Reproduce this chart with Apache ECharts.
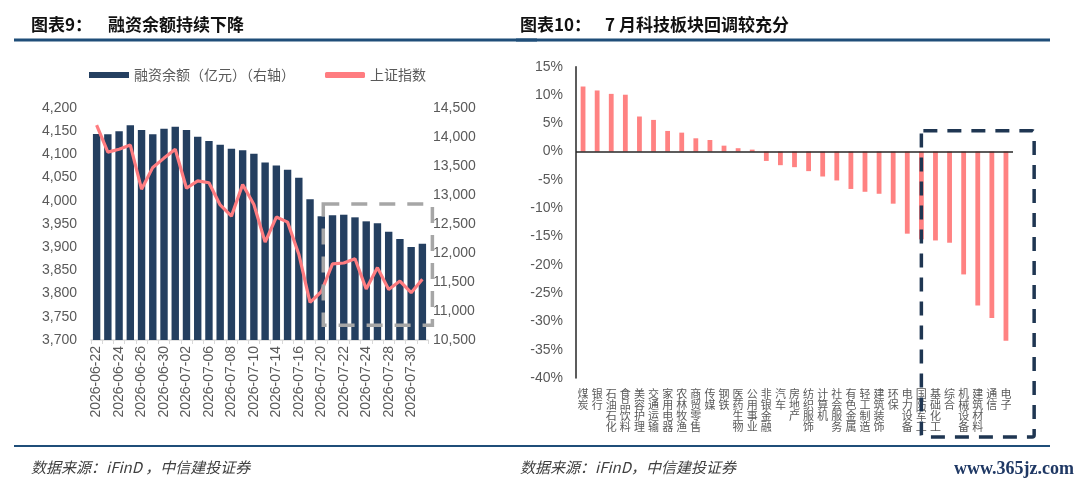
<!DOCTYPE html>
<html>
<head>
<meta charset="utf-8">
<script src="https://cdn.jsdelivr.net/npm/echarts@6/dist/echarts.min.js"></script>
<style>
html,body{margin:0;padding:0;background:#fff;}
#chart{width:1080px;height:490px;}
</style>
</head>
<body>
<div id="chart"></div>
<script>
// ---- Data: chart 9 ----
const dates = ['2026-06-22','2026-06-23','2026-06-24','2026-06-25','2026-06-26','2026-06-29','2026-06-30',
  '2026-07-01','2026-07-02','2026-07-03','2026-07-06','2026-07-07','2026-07-08','2026-07-09','2026-07-10',
  '2026-07-13','2026-07-14','2026-07-15','2026-07-16','2026-07-17','2026-07-20','2026-07-21','2026-07-22',
  '2026-07-23','2026-07-24','2026-07-27','2026-07-28','2026-07-29','2026-07-30','2026-07-31'];
const marginBalance = [14052,14047,14098,14201,14121,14047,14143,14178,14121,14006,13931,13867,13798,13770,13712,
  13560,13509,13436,13298,12926,12633,12650,12660,12615,12546,12512,12367,12241,12103,12160];
const shIndex = [4163,4105,4111,4120,4025,4072,4092,4111,4027,4043,4039,3991,3967,4035,3992,
  3911,3965,3954,3885,3781,3804,3864,3866,3875,3810,3856,3809,3827,3802,3831];
const leftTicks = {min:3700, max:4200, interval:50};
const rightTicks = {min:10500, max:14500, interval:500};
const box9 = {from:'2026-07-20', to:'2026-07-31', top:3993, bottom:3732};

// ---- Data: chart 10 ----
const industries = ['煤炭','银行','石油石化','食品饮料','美容护理','交通运输','家用电器','农林牧渔','商贸零售','传媒',
  '钢铁','医药生物','公用事业','非银金融','汽车','房地产','纺织服饰','计算机','社会服务','有色金属',
  '轻工制造','建筑装饰','环保','电力设备','国防军工','基础化工','综合','机械设备','建筑材料','通信','电子'];
const julyReturn = [11.5,10.8,10.2,10.05,6.2,5.6,3.65,3.35,2.35,2.05,1.05,0.6,0.35,-1.65,-2.4,
  -2.75,-3.45,-4.4,-5.1,-6.6,-7.1,-7.45,-9.2,-14.5,-15.5,-15.7,-16.1,-21.7,-27.2,-29.4,-33.4];
const pctTicks = {min:-40, max:15, interval:5};
const box10 = {from:'国防军工', top:3.7};

const FONT = "'Liberation Sans','Noto Sans CJK SC',sans-serif";
const CJK = "'Noto Sans CJK SC',sans-serif";
const GRAY = '#595959';
const NAVY = '#243F60';
const PINK = '#FF7C80';
const BLUE = '#1F4E79';

const chart = echarts.init(document.getElementById('chart'), null, {renderer:'canvas'});

const option = {
  animation:false,
  textStyle:{fontFamily:FONT},
  title:[
    {text:'图表9：', left:26, top:11, textStyle:{fontFamily:CJK, fontSize:17, fontWeight:'bold', color:'#111'}},
    {text:'融资余额持续下降', left:103, top:11, textStyle:{fontFamily:CJK, fontSize:17, fontWeight:'bold', color:'#111'}},
    {text:'图表10：', left:515, top:11, textStyle:{fontFamily:CJK, fontSize:17, fontWeight:'bold', color:'#111'}},
    {text:'7 月科技板块回调较充分', left:600, top:11, textStyle:{fontFamily:CJK, fontSize:17, fontWeight:'bold', color:'#111'}},
    {text:'数据来源：iFinD ，中信建投证券', left:26, top:455, textStyle:{fontFamily:CJK, fontSize:15, fontWeight:'normal', fontStyle:'italic', color:'#404040'}},
    {text:'数据来源：iFinD，中信建投证券', left:515, top:455, textStyle:{fontFamily:CJK, fontSize:15, fontWeight:'normal', fontStyle:'italic', color:'#404040'}}
  ],
  legend:{
    left:84, top:63, itemWidth:40, itemHeight:6, itemGap:30,
    textStyle:{color:GRAY, fontSize:14, fontFamily:CJK},
    data:[{name:'融资余额（亿元）（右轴）', icon:'rect'}, {name:'上证指数', icon:'roundRect'}]
  },
  grid:[
    {left:91, right:652, top:108, bottom:150},
    {left:576, right:67, top:66.7, bottom:112}
  ],
  xAxis:[
    {type:'category', gridIndex:0, data:dates, boundaryGap:true,
     axisLine:{lineStyle:{color:'#D9D9D9', width:1.5}},
     axisTick:{show:true, interval:0, length:4, lineStyle:{color:'#D9D9D9'}},
     axisLabel:{interval:1, rotate:90, color:GRAY, fontSize:14, margin:6, fontFamily:FONT}},
    {type:'category', gridIndex:1, data:industries, boundaryGap:true,
     axisLine:{show:false, onZero:false}, axisTick:{show:false},
     axisLabel:{interval:0, color:GRAY, fontSize:11, lineHeight:11.2, margin:10, fontFamily:CJK,
       verticalAlign:'top', formatter:v=>v.split('').join('\n')}}
  ],
  yAxis:[
    {type:'value', gridIndex:0, min:leftTicks.min, max:leftTicks.max, interval:leftTicks.interval,
     axisLine:{show:false}, axisTick:{show:false}, splitLine:{show:false},
     axisLabel:{color:GRAY, fontSize:14, margin:14, formatter:v=>v.toLocaleString('en-US')}},
    {type:'value', gridIndex:0, position:'right', min:rightTicks.min, max:rightTicks.max, interval:rightTicks.interval,
     axisLine:{show:false}, axisTick:{show:false}, splitLine:{show:false},
     axisLabel:{color:GRAY, fontSize:14, margin:5, formatter:v=>v.toLocaleString('en-US')}},
    {type:'value', gridIndex:1, min:pctTicks.min, max:pctTicks.max, interval:pctTicks.interval,
     axisLine:{show:true, lineStyle:{color:'#262626', width:1.5}}, axisTick:{show:false}, splitLine:{show:false},
     axisLabel:{color:GRAY, fontSize:14, margin:13, formatter:'{value}%'}}
  ],
  series:[
    {name:'融资余额（亿元）（右轴）', type:'bar', xAxisIndex:0, yAxisIndex:1, data:marginBalance,
     barWidth:7.4, itemStyle:{color:NAVY}},
    {name:'上证指数', type:'line', xAxisIndex:0, yAxisIndex:0, data:shIndex,
     symbol:'none', lineStyle:{color:PINK, width:3.2}, itemStyle:{color:PINK}, z:3},
    {name:'7月涨跌幅', type:'bar', xAxisIndex:1, yAxisIndex:2, data:julyReturn,
     barWidth:4.8, itemStyle:{color:'#FF8282'},
     markLine:{silent:true, symbol:'none', label:{show:false},
       lineStyle:{color:'#262626', width:1.5, type:'solid'}, data:[{yAxis:0}]}}
  ]
};
chart.setOption(option);

// Annotation boxes and rules positioned via the library's scales
const b9x1 = chart.convertToPixel({xAxisIndex:0}, box9.from) + 2;
const b9x2 = chart.convertToPixel({xAxisIndex:0}, box9.to) + 10;
const b9y1 = chart.convertToPixel({yAxisIndex:0}, box9.top);
const b9y2 = chart.convertToPixel({yAxisIndex:0}, box9.bottom);
const step10 = chart.convertToPixel({xAxisIndex:1}, industries[1]) - chart.convertToPixel({xAxisIndex:1}, industries[0]);
const b10x1 = chart.convertToPixel({xAxisIndex:1}, box10.from);
const b10x2 = chart.convertToPixel({xAxisIndex:1}, industries[industries.length-1]) + 2*step10;
const b10y1 = chart.convertToPixel({yAxisIndex:2}, box10.top);
const b10y2 = chart.convertToPixel({yAxisIndex:2}, pctTicks.min) + 59;

chart.setOption({
  graphic:[
    {type:'rect', shape:{x:14, y:38.5, width:523, height:3}, style:{fill:BLUE}, silent:true},
    {type:'rect', shape:{x:516, y:38.5, width:534, height:3}, style:{fill:BLUE}, silent:true},
    {type:'rect', shape:{x:14, y:445, width:523, height:2}, style:{fill:BLUE}, silent:true},
    {type:'rect', shape:{x:516, y:445, width:534, height:2}, style:{fill:BLUE}, silent:true},
    {type:'rect', shape:{x:b9x1, y:b9y1, width:b9x2-b9x1, height:b9y2-b9y1},
     style:{fill:'none', stroke:'#A6A6A6', lineWidth:3.5, lineDash:[16,12]}, z:100, silent:true},
    {type:'rect', shape:{x:b10x1, y:b10y1, width:b10x2-b10x1, height:b10y2-b10y1, r:2},
     style:{fill:'none', stroke:'#1F3652', lineWidth:3.5, lineDash:[14,10]}, z:100, silent:true},
    {type:'text', right:6, top:460, style:{text:'www.365jz.com', fill:'#1F3864',
      font:"bold 18px 'Liberation Serif', serif"}, z:100, silent:true}
  ]
});
</script>
</body>
</html>
